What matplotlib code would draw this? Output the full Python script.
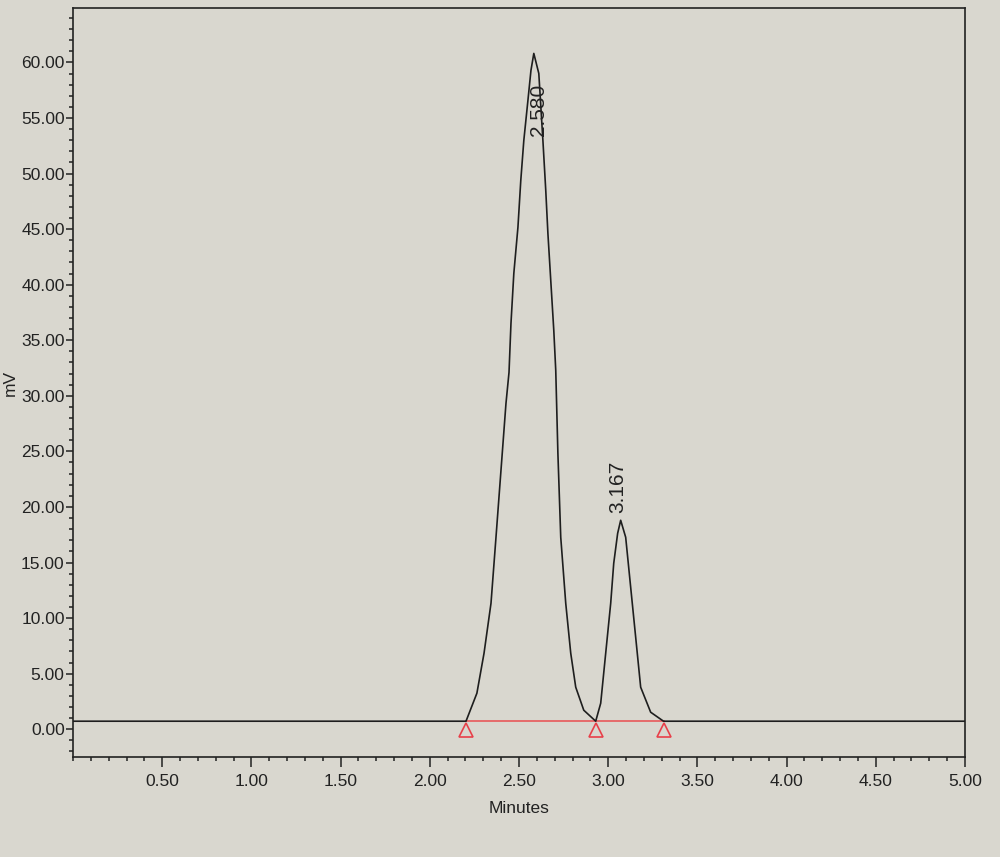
import numpy as np
import matplotlib.pyplot as plt
from matplotlib.ticker import MultipleLocator, FixedLocator

plt.rcParams['font.family'] = ['Liberation Sans', 'DejaVu Sans']

# detector trace (minutes, mV)
trace_t = [0.00, 2.203, 2.264, 2.304, 2.343, 2.371, 2.399, 2.427, 2.444, 2.455,
           2.471, 2.494, 2.510, 2.527, 2.550, 2.567, 2.583, 2.611, 2.634, 2.650,
           2.662, 2.678, 2.695, 2.706, 2.718, 2.734, 2.762, 2.790, 2.818, 2.863,
           2.930, 2.958, 2.986, 3.014, 3.031, 3.053, 3.070, 3.098, 3.126, 3.154,
           3.182, 3.238, 3.310, 5.00]
trace_mv = [0.72, 0.72, 3.24, 6.84, 11.33, 17.27, 23.30, 29.32, 32.11, 36.52,
            41.02, 45.16, 49.38, 52.98, 56.58, 59.28, 60.81, 59.01, 52.98, 48.48,
            44.62, 40.39, 35.89, 32.29, 24.83, 17.27, 11.33, 6.84, 3.78, 1.71,
            0.72, 2.34, 6.84, 11.33, 14.93, 17.63, 18.80, 17.27, 12.77, 8.28,
            3.78, 1.53, 0.72, 0.72]

# integration marks
marks_t = [2.203, 2.930, 3.310]
baseline_mv = 0.72

# peak labels
peak_names = ["2.580", "3.167"]
peak_lbl_t = [2.612, 3.053]
peak_lbl_mv = [53.4, 19.5]

bg = "#d9d7cf"
fig = plt.figure(figsize=(10, 8.57), dpi=100, facecolor=bg)
ax = fig.add_axes([0.073, 0.1167, 0.892, 0.874], facecolor=bg)

ax.plot(trace_t, trace_mv, color="#1e1e1e", lw=1.2, zorder=3)
ax.plot([marks_t[0], marks_t[-1]], [baseline_mv, baseline_mv], color="#e8585a", lw=1.2, zorder=2)
ax.plot(marks_t, [-0.1] * len(marks_t), ls="none", marker="^", ms=10,
        mfc="none", mec="#e8404a", mew=1.2, zorder=4)

for name, t, v in zip(peak_names, peak_lbl_t, peak_lbl_mv):
    ax.text(t, v, name, rotation=90, ha="center", va="bottom", fontsize=15,
            color="#222222", zorder=5)

ax.set_xlim(0, 5.0)
ax.set_ylim(-2.5, 64.9)

ax.xaxis.set_major_locator(FixedLocator(np.arange(0.5, 5.01, 0.5)))
ax.xaxis.set_minor_locator(MultipleLocator(0.1))
ax.yaxis.set_major_locator(FixedLocator(np.arange(0, 60.1, 5)))
ax.yaxis.set_minor_locator(MultipleLocator(1))
ax.xaxis.set_major_formatter(plt.FuncFormatter(lambda v, p: "%.2f" % v))
ax.yaxis.set_major_formatter(plt.FuncFormatter(lambda v, p: "%.2f" % v))

ax.tick_params(axis="both", which="major", direction="out", length=7, width=1.1,
               labelsize=12.5, colors="#222222")
ax.tick_params(axis="y", which="major", length=5, pad=1)
ax.tick_params(axis="x", which="major", pad=5)
ax.tick_params(axis="both", which="minor", direction="out", length=3, width=1.1,
               colors="#222222")

for s in ax.spines.values():
    s.set_color("#222222")
    s.set_linewidth(1.2)

ax.set_xlabel("Minutes", fontsize=12.5, color="#222222", labelpad=9)
ax.set_ylabel("mV", fontsize=12.5, color="#222222")
ax.yaxis.set_label_coords(-0.062, 0.5)

fig.savefig("out.png", dpi=100, facecolor=bg)
